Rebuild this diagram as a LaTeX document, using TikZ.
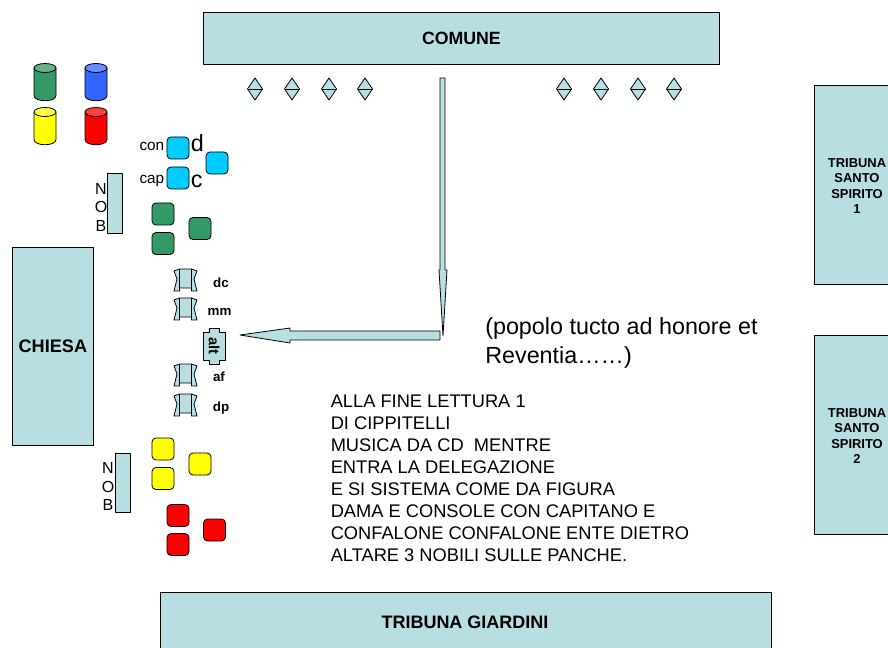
\documentclass[tikz,border=0pt]{standalone}
\usepackage{fontspec}
\setmainfont{Liberation Sans}
\definecolor{pale}{HTML}{B8DEE2}
\definecolor{gr}{HTML}{339966}
\definecolor{blu}{HTML}{3366FF}
\definecolor{cy}{HTML}{00CCFF}
\definecolor{yel}{HTML}{FFFF00}
\definecolor{rd}{HTML}{FF0000}
\newcommand{\fsz}[2]{\fontsize{#1}{#2}\selectfont}
\tikzset{
  x=0.75pt,y=-0.75pt,
  outl/.style={draw=black,line width=0.6pt,line join=round},
  block/.style={outl,fill=pale,rectangle,anchor=north west,inner sep=0pt,align=center},
  sq/.style={outl,rectangle,rounded corners=3pt,minimum width=16.5pt,minimum height=16.5pt,inner sep=0pt},
  lab/.style={inner sep=0pt,anchor=center},
  smallb/.style={lab,font=\bfseries\fsz{10}{12}},
  nob/.style={lab,font=\fsz{12}{14}},
  side/.style={lab,font=\fsz{11.5}{14}},
  trib/.style={lab,align=center,font=\bfseries\fsz{9.7}{11.6}},
  pics/cyl/.style={code={
    \path[outl,fill=#1] (-11,-14) -- (-11,13.5) .. controls (-11,20.5) and (11,20.5) .. (11,13.5) -- (11,-14) -- cycle;
    \path[outl,fill=#1!75!white] (0,-14) ellipse[x radius=11,y radius=4.5];
  }},
  pics/dia/.style={code={
    \path[outl,fill=pale] (0,-11) -- (7.5,0) -- (0,11) -- (-7.5,0) -- cycle;
    \draw[line width=0.6pt] (-7.5,0) -- (7.5,0);
  }},
  pics/bow/.style={code={
    \path[outl,fill=pale] (-11.5,-9) -- (-6,-11) -- (6,-11) -- (11.5,-9) -- (8.5,-1) -- (11.5,11) -- (6,11) -- (6,8) -- (-6,8) -- (-6,11) -- (-11.5,11) -- (-8.5,-1) -- cycle;
    \draw[line width=0.6pt] (-6,-11) -- (-6,8) (6,-11) -- (6,8);
  }}
}
\begin{document}
\begin{tikzpicture}
\useasboundingbox (0,0) rectangle (888,648);
\node[block,minimum width=387pt,minimum height=39pt,font=\bfseries\fsz{13.3}{15}] (comune) at (203,12) {COMUNE};
\node[block,minimum width=60.75pt,minimum height=148.5pt,font=\bfseries\fsz{13.6}{15}] (chiesa) at (12,247) {CHIESA};
\path[outl,fill=pale] (888,85) -- (814,85) -- (814,284) -- (888,284);
\node[trib] (ss1) at (857,186) {TRIBUNA\\SANTO\\SPIRITO\\1};
\path[outl,fill=pale] (888,335) -- (814,335) -- (814,534) -- (888,534);
\node[trib] (ss2) at (857,436) {TRIBUNA\\SANTO\\SPIRITO\\2};
\path[outl,fill=pale] (160,648) -- (160,592) -- (771,592) -- (771,648);
\node[lab,font=\bfseries\fsz{13.5}{15}] (giardini) at (465,622) {TRIBUNA GIARDINI};

\pic at (45,82) {cyl=gr};
\pic at (96,82) {cyl=blu};
\pic at (45,126) {cyl=yel};
\pic at (96,126) {cyl=rd};

\foreach \x in {255,292,329,365,564,601,638,674} \pic at (\x,89) {dia};

\node[sq,fill=cy] (s1) at (178,148) {};
\node[sq,fill=cy] (s2) at (217,163) {};
\node[sq,fill=cy] (s3) at (178,178) {};
\node[side,anchor=east] (con) at (164.5,146) {con};
\node[side,anchor=east] (cap) at (164.5,181) {cap};
\node[lab,anchor=west,font=\fsz{17.5}{20}] (d) at (190.5,143) {d};
\node[lab,anchor=west,font=\fsz{17.5}{20}] (c) at (190.5,181) {c};
\node[sq,fill=gr] (g1) at (163,214) {};
\node[sq,fill=gr] (g2) at (163,243.5) {};
\node[sq,fill=gr] (g3) at (200,228.5) {};
\node[sq,fill=yel] (y1) at (163,449) {};
\node[sq,fill=yel] (y2) at (163,478.5) {};
\node[sq,fill=yel] (y3) at (200,464) {};
\node[sq,fill=rd] (r1) at (178,515.5) {};
\node[sq,fill=rd] (r2) at (178,544.5) {};
\node[sq,fill=rd] (r3) at (214.5,530) {};

\node[block,minimum width=11.25pt,minimum height=45pt] (nob1) at (107,173) {};
\node[nob] at (101,189) {N};
\node[nob] at (101,207) {O};
\node[nob] at (101,226) {B};
\node[block,minimum width=11.25pt,minimum height=44.25pt] (nob2) at (115,453) {};
\node[nob] at (108,468) {N};
\node[nob] at (108,487) {O};
\node[nob] at (108,505) {B};

\pic at (185.5,280) {bow};
\pic at (185.5,309) {bow};
\pic at (185.5,375) {bow};
\pic at (185.5,405) {bow};
\path[outl,fill=pale] (203,332) -- (209,332) -- (209,328) -- (219,328) -- (219,332) -- (225,332) -- (225,360) -- (219,360) -- (219,364) -- (209,364) -- (209,360) -- (203,360) -- cycle;
\node[lab,rotate=-90,font=\bfseries\fsz{11}{13}] (alt) at (214,346) {alt};
\node[smallb] (dc) at (221,283) {dc};
\node[smallb] (mm) at (219.5,312) {mm};
\node[smallb] (af) at (219,377) {af};
\node[smallb] (dp) at (221,408) {dp};

\path[outl,fill=pale] (440,78) -- (445,78) -- (445,270) -- (447,270) -- (443,336) -- (439,270) -- (440,270) -- cycle;
\path[outl,fill=pale] (440,331) -- (290,331) -- (290,328) -- (240,335) -- (290,343) -- (290,340) -- (440,340) -- cycle;

\node[lab,anchor=north west,align=left,font=\fsz{17.5}{22}] (popolo) at (485,317) {(popolo tucto ad honore et\\Reventia\ldots\ldots)};
\node[lab,anchor=north west,align=left,font=\fsz{13.7}{16.5}] (note) at (330.5,395) {ALLA FINE LETTURA 1\\DI CIPPITELLI\\MUSICA DA CD~~MENTRE\\ENTRA LA DELEGAZIONE\\E SI SISTEMA COME DA FIGURA\\DAMA E CONSOLE CON CAPITANO E\\CONFALONE CONFALONE ENTE DIETRO\\ALTARE 3 NOBILI SULLE PANCHE.};
\end{tikzpicture}
\end{document}
